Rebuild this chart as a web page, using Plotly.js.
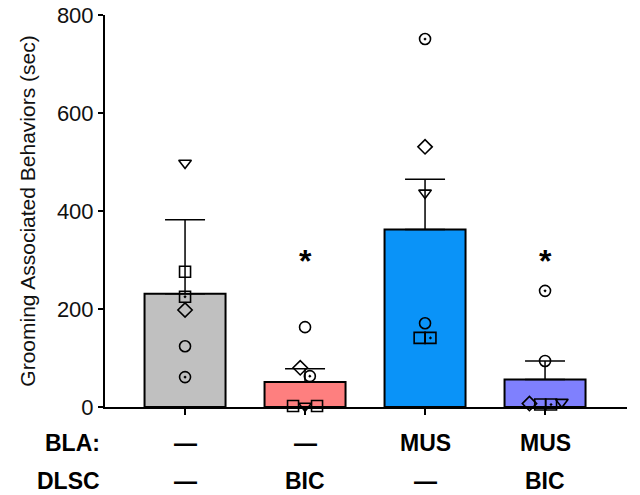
<!DOCTYPE html>
<html><head><meta charset="utf-8">
<script src="https://cdn.plot.ly/plotly-3.0.1.min.js"></script>
<style>body{margin:0;background:#fff}#chart{width:640px;height:495px}</style>
</head><body><div id="chart"></div>
<script>
// ---- data ----
const groups = [0, 1, 2, 3];
const groupColors = ['#c0c0c0', '#fe7f7f', '#0a93f8', '#7f80fe'];
const means = [231, 51, 362, 56];
const sems = [151, 27, 103, 38];
const blaLabels = ['—', '—', 'MUS', 'MUS'];
const dlscLabels = ['—', 'BIC', '—', 'BIC'];
const sigGroups = [1, 3];
const sigLabel = '*';
// individual animals (group index, value, symbol, small horizontal offset)
const ptGroup  = [0,0,0,0,0,0, 1,1,1,1,1,1, 2,2,2,2,2,2, 3,3,3,3,3,3];
const ptValue  = [498,276,225,198,124,61, 163,80,63,2,2,2, 751,531,437,171,141,141, 237,94,7,5,5,10];
const ptSymbol = ['triangle-down-open','square-open','square-open-dot','diamond-open','circle-open','circle-open-dot',
                  'circle-open','diamond-open','circle-open-dot','square-open','triangle-down-open','square-open',
                  'circle-open-dot','diamond-open','triangle-down-open','circle-open','square-open','square-open-dot',
                  'circle-open-dot','circle-open','diamond-open','square-open','square-open-dot','triangle-down-open'];
const ptJitter = [0,0,0,0,0,0, 0,-0.04,0.04,-0.1,0,0.1, 0,0,0,0,-0.045,0.045, 0,0,-0.13,-0.04,0.05,0.14];

const font = 'Arial, "Liberation Sans", sans-serif';

const bars = {
  type: 'bar', x: groups, y: means, width: 0.675,
  marker: {color: groupColors, line: {color: '#000', width: 2}},
  error_y: {type: 'data', symmetric: false, array: sems, arrayminus: means.map(() => 0),
            color: '#000', thickness: 1.5, width: 20},
  hoverinfo: 'none', showlegend: false
};
const pts = {
  type: 'scatter', mode: 'markers',
  x: ptGroup.map((g, i) => g + ptJitter[i]), y: ptValue,
  marker: {symbol: ptSymbol, size: 11, color: '#000', line: {color: '#000', width: 1.6}},
  cliponaxis: false, hoverinfo: 'none', showlegend: false
};

const rowY = [-0.092, -0.19];
const lblFont = {family: font, size: 23, color: '#000'};
const annotations = [];
annotations.push({xref: 'paper', yref: 'paper', x: -0.006, y: rowY[0], xanchor: 'right', yanchor: 'middle',
  text: '<b>BLA:</b>', showarrow: false, font: lblFont});
annotations.push({xref: 'paper', yref: 'paper', x: -0.006, y: rowY[1], xanchor: 'right', yanchor: 'middle',
  text: '<b>DLSC</b>', showarrow: false, font: lblFont});
groups.forEach((g, i) => {
  annotations.push({xref: 'x', yref: 'paper', x: g, y: rowY[0], yanchor: 'middle',
    text: '<b>' + blaLabels[i] + '</b>', showarrow: false, font: lblFont});
  annotations.push({xref: 'x', yref: 'paper', x: g, y: rowY[1], yanchor: 'middle',
    text: '<b>' + dlscLabels[i] + '</b>', showarrow: false, font: lblFont});
});
sigGroups.forEach(g => {
  annotations.push({xref: 'x', yref: 'y', x: g, y: 298, yanchor: 'middle',
    text: '<b>' + sigLabel + '</b>', showarrow: false, font: {family: font, size: 32, color: '#000'}});
});

const layout = {
  width: 640, height: 495,
  margin: {l: 105, r: 13, t: 15, b: 88},
  paper_bgcolor: '#fff', plot_bgcolor: '#fff',
  font: {family: font, color: '#111'},
  xaxis: {range: [-0.667, 3.683], showgrid: false, zeroline: false, showline: true,
          linecolor: '#000', linewidth: 2, ticks: 'outside', ticklen: 6, tickwidth: 2, tickcolor: '#000',
          tickvals: groups, showticklabels: false, fixedrange: true},
  yaxis: {range: [0, 800], showgrid: false, zeroline: false, showline: true,
          linecolor: '#000', linewidth: 2, ticks: 'outside', ticklen: 5, tickwidth: 2, tickcolor: '#000',
          tickvals: [0, 200, 400, 600, 800], tickfont: {family: font, size: 22, color: '#111'},
          title: {text: 'Grooming Associated Behaviors (sec)', font: {family: font, size: 21, color: '#111'}, standoff: 16},
          fixedrange: true},
  annotations: annotations
};
Plotly.newPlot('chart', [bars, pts], layout, {displayModeBar: false, staticPlot: true});
</script>
</body></html>
